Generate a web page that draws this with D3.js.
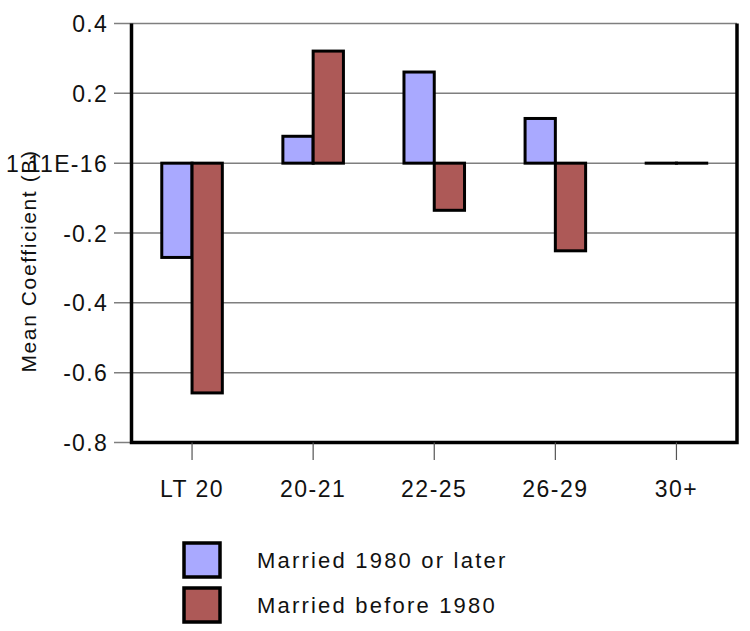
<!DOCTYPE html>
<html><head><meta charset="utf-8">
<script src="https://cdn.jsdelivr.net/npm/d3@7"></script>
<style>body{margin:0;background:#fff;} svg{display:block;font-family:"Liberation Sans",Arial,sans-serif;}</style>
</head><body>
<svg id="c" width="750" height="631"></svg>
<script>
const categories = ["LT 20", "20-21", "22-25", "26-29", "30+"];
const seriesNames = ["Married 1980 or later", "Married before 1980"];
const seriesLater = [-0.27, 0.077, 0.261, 0.128, 0];
const seriesBefore = [-0.658, 0.321, -0.135, -0.251, 0];
const yTicks = [0.4, 0.2, 0, -0.2, -0.4, -0.6, -0.8];
const yTickLabels = ["0.4", "0.2", "1.11E-16", "-0.2", "-0.4", "-0.6", "-0.8"];
const colors = ["#A9A9FF", "#AD5957"];
const series = [seriesLater, seriesBefore];

const svg = d3.select("#c");
const L = 131.5, R = 737, T = 23.5, B = 442.5;
const x = d3.scaleBand().domain(categories).range([L, R]).padding(0);
const y = d3.scaleLinear().domain([-0.8, 0.4]).range([B, T]);

// gridlines
svg.append("g").selectAll("line").data(yTicks).join("line")
  .attr("x1", 114).attr("x2", R).attr("y1", d => y(d)).attr("y2", d => y(d))
  .attr("stroke", "#7f7f7f").attr("stroke-width", 1.5);

// y labels
svg.append("g").selectAll("text").data(yTicks).join("text")
  .attr("x", 108).attr("y", d => y(d) + 8.5)
  .attr("text-anchor", "end").attr("font-size", 23).attr("letter-spacing", 1.3)
  .attr("fill", "#111").text((d, i) => yTickLabels[i]);

// bars
const bw = x.bandwidth() * 0.25;
series.forEach((s, si) => {
  svg.append("g").selectAll("rect").data(s).join("rect")
    .attr("x", (d, i) => x(categories[i]) + x.bandwidth() / 2 - bw + si * bw)
    .attr("width", bw)
    .attr("y", d => y(Math.max(0, d)))
    .attr("height", d => Math.max(0.01, Math.abs(y(d) - y(0))))
    .attr("fill", colors[si]).attr("stroke", "#000").attr("stroke-width", 3);
});

// axes frame
svg.append("path").attr("d", `M${L},${T}V${B}H${R}V${T}`)
  .attr("fill", "none").attr("stroke", "#000").attr("stroke-width", 3.5);

// x ticks
svg.append("g").selectAll("line").data(categories).join("line")
  .attr("x1", d => x(d) + x.bandwidth() / 2).attr("x2", d => x(d) + x.bandwidth() / 2)
  .attr("y1", B).attr("y2", 460).attr("stroke", "#555").attr("stroke-width", 1.2);
svg.append("g").selectAll("text").data(categories).join("text")
  .attr("x", d => x(d) + x.bandwidth() / 2).attr("y", 497)
  .attr("text-anchor", "middle").attr("font-size", 23).attr("letter-spacing", 1.5)
  .attr("fill", "#111").text(d => d);

// y title
svg.append("text").attr("transform", "translate(36,261) rotate(-90)")
  .attr("text-anchor", "middle").attr("font-size", 21).attr("letter-spacing", 1.6)
  .attr("fill", "#111").text("Mean Coefficient (B)");

// legend
const lg = svg.append("g").selectAll("g").data(seriesNames).join("g")
  .attr("transform", (d, i) => `translate(184,${543 + i * 45})`);
lg.append("rect").attr("width", 36).attr("height", 34)
  .attr("fill", (d, i) => colors[i]).attr("stroke", "#000").attr("stroke-width", 3.5);
lg.append("text").attr("x", 73).attr("y", 25).attr("font-size", 22).attr("letter-spacing", 2.2)
  .attr("fill", "#111").text(d => d);
</script>
</body></html>
